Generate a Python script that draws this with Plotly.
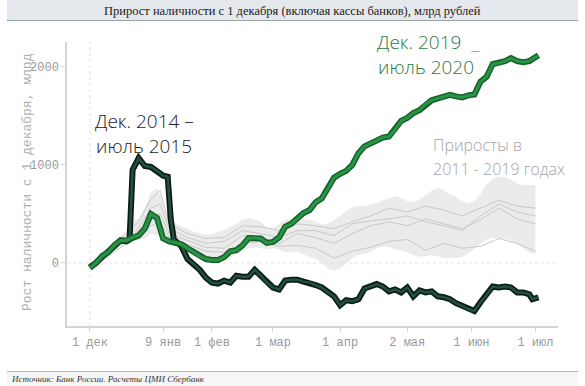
import plotly.graph_objects as go

# ---------------- data ----------------
tick_days = [0, 24, 40, 60, 82, 104, 125, 146]
tick_labels = ["1 дек", "9 янв", "1 фев", "1 мар", "1 апр", "2 мая", "1 июн", "1 июл"]

days_2020 = [0, 2, 4, 6, 8, 10, 12, 14, 16, 18, 20, 22, 24, 26, 28, 30, 32, 34, 36, 38, 40,
             42, 44, 46, 48, 50, 52, 54, 56, 58, 60, 62, 64, 66, 68, 70, 72, 74, 76, 78, 80,
             82, 84, 86, 88, 90, 92, 94, 96, 98, 100, 102, 104, 106, 108, 110, 112, 114, 116,
             118, 120, 122, 124, 126, 128, 130, 132, 134, 136, 138, 140, 142, 144, 146, 147]
vals_2020 = [-50, 0, 70, 110, 180, 230, 230, 260, 280, 350, 500, 460, 250, 220, 210, 190, 150,
             110, 70, 40, 30, 30, 60, 120, 130, 180, 255, 255, 250, 205, 215, 260, 370, 400,
             450, 510, 540, 620, 660, 760, 870, 910, 940, 1000, 1120, 1190, 1220, 1255, 1280,
             1290, 1360, 1450, 1480, 1530, 1560, 1620, 1660, 1680, 1700, 1715, 1700, 1690,
             1710, 1720, 1850, 1900, 2030, 2040, 2060, 2090, 2060, 2050, 2060, 2100, 2120]

days_2015 = [0, 2, 4, 6, 8, 10, 12, 13, 14, 16, 18, 20, 22, 24, 25.5, 26.5, 27.5, 30, 32, 34,
             36, 38, 40, 42, 44, 46, 48, 50, 52, 54, 56, 58, 60, 62, 64, 66, 68, 70, 72, 74,
             76, 78, 80, 82, 84, 86, 88, 90, 92, 94, 96, 98, 100, 102, 104, 106, 108, 110,
             112, 114, 116, 118, 120, 122, 124, 126, 128, 130, 132, 134, 136, 138, 140, 142,
             144, 145, 147]
vals_2015 = [-40, 0, 60, 110, 170, 230, 220, 240, 950, 1070, 990, 980, 940, 890, 880, 450, 240,
             170, 40, -10, -70, -150, -200, -210, -180, -200, -130, -140, -140, -70, -130, -200,
             -250, -270, -180, -170, -170, -190, -200, -225, -250, -300, -340, -430, -380, -390,
             -370, -260, -240, -215, -240, -290, -270, -300, -250, -340, -280, -300, -290, -340,
             -350, -370, -410, -440, -470, -490, -400, -330, -240, -250, -240, -250, -300, -300,
             -320, -370, -350]

band_days = [0, 4, 8, 12, 14, 16, 18, 20, 22, 24, 26, 28, 30, 32, 34, 36, 38, 40, 42, 44, 46,
             48, 50, 52, 54, 56, 58, 60, 62, 64, 66, 68, 70, 72, 74, 76, 78, 80, 82, 84, 86, 88,
             90, 92, 94, 96, 98, 100, 102, 104, 106, 108, 110, 112, 114, 116, 118, 120, 122,
             124, 126, 128, 130, 132, 134, 136, 138, 140, 142, 144, 146]
band_upper = [0, 110, 230, 330, 420, 460, 560, 720, 765, 620, 440, 400, 380, 350, 320, 300, 290,
              290, 320, 340, 370, 400, 440, 460, 440, 420, 360, 350, 400, 440, 450, 460, 450,
              440, 420, 390, 400, 440, 480, 530, 570, 580, 580, 600, 610, 640, 660, 680, 660,
              630, 620, 650, 690, 740, 765, 740, 700, 670, 630, 610, 630, 700, 800, 860, 880,
              880, 850, 810, 795, 795, 795]
band_lower = [-60, 40, 150, 200, 235, 235, 250, 300, 280, 235, 200, 185, 160, 130, 120, 80, 60,
              40, 30, 40, 60, 90, 120, 150, 160, 150, 140, 150, 140, 110, 110, 120, 90, 60, 40,
              0, -60, -80, -60, 0, 50, 80, 100, 110, 150, 170, 160, 140, 130, 110, 80, 60, 70,
              80, 70, 50, 50, 50, 60, 100, 140, 200, 240, 255, 255, 250, 230, 200, 150, 110, 90]

hist_days = [0, 6, 12, 16, 20, 23, 26, 32, 38, 44, 50, 56, 62, 68, 74, 80, 86, 92, 98, 104,
             110, 116, 122, 128, 134, 140, 146]
hist_a = [-20, 140, 300, 420, 650, 740, 400, 300, 250, 260, 380, 370, 330, 400, 380, 350, 420,
          480, 560, 520, 580, 540, 480, 560, 640, 580, 560]
hist_b = [-40, 100, 260, 360, 560, 600, 350, 260, 200, 220, 330, 300, 260, 330, 330, 280, 400,
          430, 450, 480, 420, 380, 330, 480, 600, 520, 480]
hist_c = [-30, 90, 240, 330, 480, 500, 300, 230, 160, 150, 280, 260, 200, 300, 260, 200, 300,
          380, 420, 380, 450, 400, 350, 440, 560, 450, 400]
hist_d = [-50, 70, 200, 280, 380, 420, 260, 190, 120, 110, 200, 220, 170, 180, 150, 50, 120,
          160, 220, 240, 130, 200, 150, 170, 250, 200, 120]

# ---------------- layout helpers ----------------
W, H = 585, 386
L, R, T, B = 67, 27, 42, 60
PW, PH = W - L - R, H - T - B


def px(x):
    return (x - L) / PW


def py(y):
    return (H - B - y) / PH


fig = go.Figure()

# band of 2011-2019
fig.add_trace(go.Scatter(x=band_days, y=band_upper, mode="lines",
                         line=dict(width=0, color="rgba(0,0,0,0)"), hoverinfo="skip",
                         showlegend=False))
fig.add_trace(go.Scatter(x=band_days, y=band_lower, mode="lines", fill="tonexty",
                         fillcolor="rgba(222,222,222,0.6)",
                         line=dict(width=0, color="rgba(0,0,0,0)"), hoverinfo="skip",
                         showlegend=False))
for hv in (hist_a, hist_b, hist_c, hist_d):
    fig.add_trace(go.Scatter(x=hist_days, y=hv, mode="lines",
                             line=dict(width=1, color="#c8c8c8"), showlegend=False))

# 2014-2015
fig.add_trace(go.Scatter(x=days_2015, y=vals_2015, mode="lines",
                         line=dict(width=6, color="#0b1d17"), showlegend=False))
fig.add_trace(go.Scatter(x=days_2015, y=vals_2015, mode="lines",
                         line=dict(width=2.5, color="#24503f"), showlegend=False))
# 2019-2020
fig.add_trace(go.Scatter(x=days_2020, y=vals_2020, mode="lines",
                         line=dict(width=6, color="#14602a"), showlegend=False))
fig.add_trace(go.Scatter(x=days_2020, y=vals_2020, mode="lines",
                         line=dict(width=3, color="#2a9446"), showlegend=False))

shapes = [
    # title band
    dict(type="rect", xref="paper", yref="paper", x0=px(7), x1=px(578), y0=py(20.5), y1=py(0),
         fillcolor="#e5e8ec", line=dict(width=0), layer="below"),
    dict(type="line", xref="paper", yref="paper", x0=px(7), x1=px(578), y0=py(20.5), y1=py(20.5),
         line=dict(color="#98a3a3", width=1)),
    # footer
    dict(type="rect", xref="paper", yref="paper", x0=px(7), x1=px(578), y0=py(386), y1=py(371.5),
         fillcolor="#f6f6f6", line=dict(width=0), layer="below"),
    dict(type="line", xref="paper", yref="paper", x0=px(7), x1=px(578), y0=py(371.5), y1=py(371.5),
         line=dict(color="#a9c3ba", width=1)),
    # dotted reference lines
    dict(type="line", xref="paper", yref="y", x0=0, x1=1, y0=0, y1=0,
         line=dict(color="#e2e2e2", width=1, dash="dot"), layer="below"),
    dict(type="line", xref="x", yref="paper", x0=0, x1=0, y0=0, y1=1,
         line=dict(color="#e2e2e2", width=1, dash="dot"), layer="below"),
]

light = "Open Sans"
annotations = [
    dict(text="Прирост наличности с 1 декабря (включая кассы банков), млрд рублей",
         xref="paper", yref="paper", x=px(292), y=py(11), showarrow=False,
         xanchor="center", yanchor="middle",
         font=dict(family="Liberation Serif", size=12.5, color="#222222")),
    dict(text="Источник: Банк России. Расчеты ЦМИ Сбербанк",
         xref="paper", yref="paper", x=px(9), y=py(379), showarrow=False,
         xanchor="left", yanchor="middle",
         font=dict(family="Liberation Serif", size=9, color="#333333", style="italic")),
    dict(text="Рост наличности с 1 декабря, млрд", textangle=-90,
         xref="paper", yref="paper", x=px(27), y=py(182), showarrow=False,
         xanchor="center", yanchor="middle",
         font=dict(family="Liberation Mono", size=13, color="#b0b0b0")),
    dict(text="Дек. 2014 –", xref="paper", yref="paper", x=px(93), y=py(121), showarrow=False,
         xanchor="left", yanchor="middle", font=dict(family=light, size=19, color="#222222", weight=300)),
    dict(text="июль 2015", xref="paper", yref="paper", x=px(94), y=py(146), showarrow=False,
         xanchor="left", yanchor="middle", font=dict(family=light, size=19, color="#222222", weight=300)),
    dict(text="Дек. 2019  _", xref="paper", yref="paper", x=px(375), y=py(42), showarrow=False,
         xanchor="left", yanchor="middle", font=dict(family=light, size=19, color="#2b7a42", weight=300)),
    dict(text="июль 2020", xref="paper", yref="paper", x=px(376), y=py(67), showarrow=False,
         xanchor="left", yanchor="middle", font=dict(family=light, size=19, color="#2b7a42", weight=300)),
    dict(text="Приросты в", xref="paper", yref="paper", x=px(431), y=py(145), showarrow=False,
         xanchor="left", yanchor="middle", font=dict(family=light, size=16, color="#a4a4a4", weight=300)),
    dict(text="2011 - 2019 годах", xref="paper", yref="paper", x=px(431), y=py(169), showarrow=False,
         xanchor="left", yanchor="middle", font=dict(family=light, size=16, color="#a4a4a4", weight=300)),
]

fig.update_layout(
    width=W, height=H,
    margin=dict(l=L, r=R, t=T, b=B),
    paper_bgcolor="white", plot_bgcolor="white",
    showlegend=False,
    shapes=shapes, annotations=annotations,
    xaxis=dict(range=[-7.5, 153.4], tickmode="array", tickvals=tick_days, ticktext=tick_labels,
               showgrid=False, zeroline=False, showline=True, linecolor="#d4d4d4", linewidth=1.5,
               ticks="outside", ticklen=4, tickcolor="#d4d4d4",
               tickfont=dict(family="Liberation Mono", size=12, color="#9a9a9a")),
    yaxis=dict(range=[-643, 2255], tickmode="array", tickvals=[0, 1000, 2000],
               ticktext=["0", "1000", "2000"],
               showgrid=False, zeroline=False, showline=True, linecolor="#d4d4d4", linewidth=1.5,
               ticks="outside", ticklen=4, tickcolor="#d4d4d4",
               tickfont=dict(family="Liberation Mono", size=12, color="#9a9a9a")),
)

fig.write_html("out.html", config={"displayModeBar": False},
               post_script="document.body.style.margin='0';document.body.style.overflow='hidden';")
